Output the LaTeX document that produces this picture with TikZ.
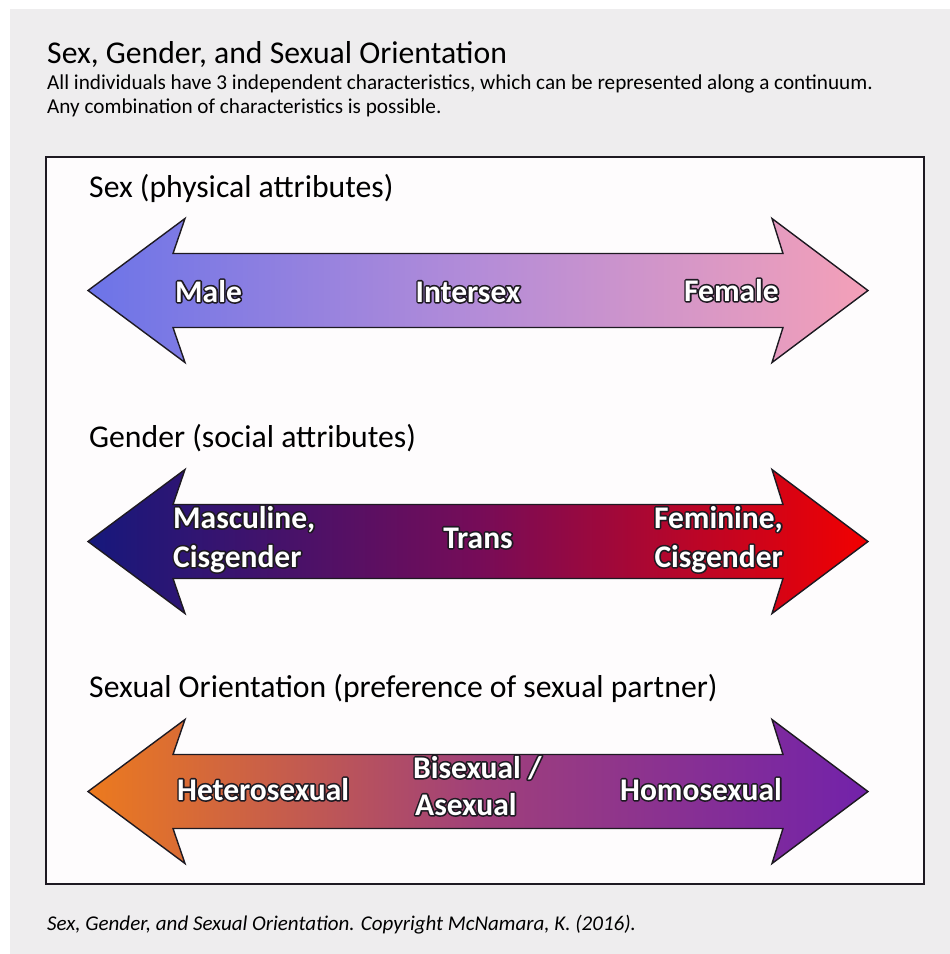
\documentclass[tikz,border=0pt]{standalone}
\usepackage{fontspec}
\setmainfont{Carlito}
\definecolor{pagegray}{HTML}{EEEDEE}
\definecolor{panel}{HTML}{FEFCFD}
\definecolor{edge}{HTML}{1E1A22}
\definecolor{sexL}{HTML}{6C74E8}
\definecolor{sexM}{HTML}{B48CD8}
\definecolor{sexR}{HTML}{F4A0B8}
\definecolor{genL}{HTML}{16187C}
\definecolor{genM}{HTML}{760C58}
\definecolor{genR}{HTML}{F20000}
\definecolor{oriL}{HTML}{EC7A1E}
\definecolor{oriM}{HTML}{A0407A}
\definecolor{oriR}{HTML}{7222AA}
\newcommand{\twoway}[1]{(88,#1) -- (185,#1-72) -- (173,#1-37) -- (783,#1-37) -- (772,#1-72) -- (868,#1) -- (772,#1+72) -- (783,#1+37) -- (173,#1+37) -- (185,#1+72) -- cycle}
% dark stroked copy underneath, white letters on top
\newcommand{\halo}[1]{\rlap{\special{pdf:literal direct 1 Tr 3.2 w 1 j 0.118 0.102 0.133 RG}#1\special{pdf:literal direct 0 Tr}}#1}
\tikzset{
  band/.style={draw=edge, line width=1.4pt, line join=miter},
  heading/.style={anchor=base west, inner sep=0pt, font=\fontsize{31.7}{38}\selectfont},
  note/.style={anchor=base west, inner sep=0pt, font=\fontsize{21.2}{25}\selectfont},
  pole/.style={inner sep=0pt, text=white, font=\bfseries\fontsize{31.5}{38}\selectfont}
}

\begin{document}
\begin{tikzpicture}[x=1pt, y=-1pt]
\useasboundingbox (0,0) rectangle (950,954);
\fill[pagegray] (10,9) rectangle (950,954);
\filldraw[fill=panel, draw=edge, line width=1.3pt] (46,157) rectangle (924,884);
% header
\node[heading] (title) at (47,63) {Sex, Gender, and Sexual Orientation};
\node[note] (sub1) at (47,89) {All individuals have 3 independent characteristics, which can be represented along a continuum.};
\node[note] (sub2) at (47,113) {Any combination of characteristics is possible.};
% sex
\node[heading] (sexhead) at (89,197) {Sex (physical attributes)};
\draw[band, left color=sexL, right color=sexR, middle color=sexM] \twoway{290.5};
\node[pole, anchor=base west] (male) at (175,302) {\halo{Male}};
\node[pole, anchor=base] (intersex) at (468,302) {\halo{Intersex}};
\node[pole, anchor=base east] (female) at (779,301) {\halo{Female}};
% gender
\node[heading] (genhead) at (89,447) {Gender (social attributes)};
\draw[band, left color=genL, right color=genR, middle color=genM] \twoway{541.5};
\node[pole, anchor=base west] (masc1) at (173,528) {\halo{Masculine,}};
\node[pole, anchor=base west] (masc2) at (173,567) {\halo{Cisgender}};
\node[pole, anchor=base] (trans) at (478,548) {\halo{Trans}};
\node[pole, anchor=base east] (fem1) at (783,528) {\halo{Feminine,}};
\node[pole, anchor=base east] (fem2) at (783,567) {\halo{Cisgender}};
% sexual orientation
\node[heading] (orihead) at (89,697) {Sexual Orientation (preference of sexual partner)};
\draw[band, left color=oriL, right color=oriR, middle color=oriM] \twoway{791.5};
\node[pole, anchor=base west] (hetero) at (177,800) {\halo{Heterosexual}};
\node[pole, anchor=base west] (bi1) at (413,778) {\halo{Bisexual /}};
\node[pole, anchor=base west] (bi2) at (415,815) {\halo{Asexual}};
\node[pole, anchor=base east] (homo) at (782,800) {\halo{Homosexual}};
% credit
\node[anchor=base west, inner sep=0pt, font=\itshape\fontsize{21}{25}\selectfont] (credit) at (47,930) {Sex, Gender, and Sexual Orientation. Copyright McNamara, K. (2016).};
\end{tikzpicture}
\end{document}
